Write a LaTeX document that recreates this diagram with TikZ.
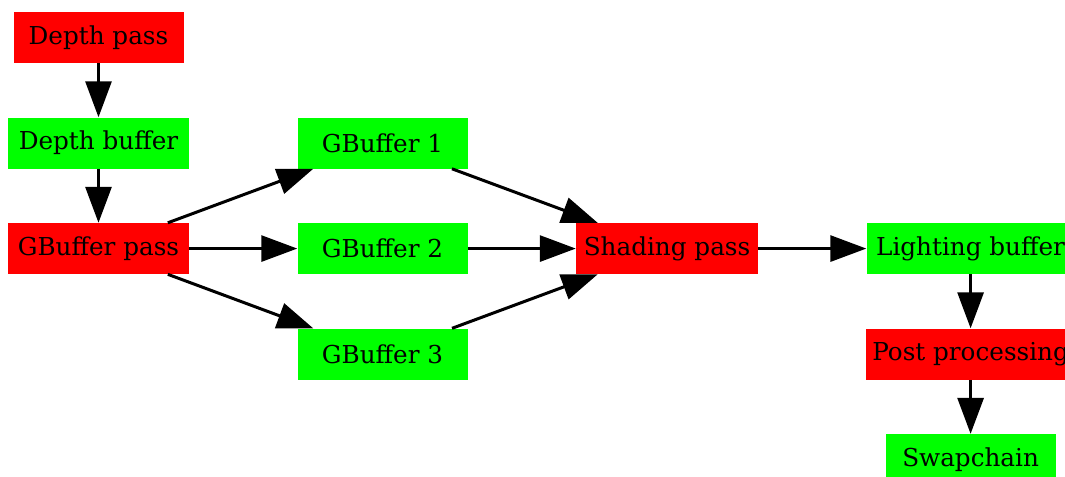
\documentclass[tikz,border=0pt]{standalone}
\usepackage{fontspec}
\setmainfont{DejaVu Serif}
\usepackage{xcolor}
\usepackage{tikz}
\usetikzlibrary{arrows.meta,positioning}
\definecolor{passred}{RGB}{255,0,0}
\definecolor{bufgreen}{RGB}{0,255,0}

\begin{document}
\begin{tikzpicture}[
            x=0.75pt,y=-0.75pt,
            node distance=40.5pt and 81pt,
            font=\fontsize{18.5pt}{22pt}\selectfont,
            box/.style={inner sep=0pt,align=center,minimum width=127.5pt,minimum height=38.25pt},
            pass/.style={box,fill=passred},
            buf/.style={box,fill=bufgreen},
            arrow/.style={-{Triangle[length=27pt,width=19.5pt]},line width=2.25pt}
        ]
            \path[use as bounding box,clip] (0,0) rectangle (1065,477);

            \node[pass] (depthpass) at (98.5,37.5) {Depth pass};
            \node[buf,minimum width=135.75pt,below=of depthpass] (depthbuf) {Depth buffer};
            \node[pass,minimum width=135.75pt,below=of depthbuf] (gbpass) {GBuffer pass};
            \node[buf,right=of depthbuf] (gbuf1) {GBuffer 1};
            \node[buf,right=of gbpass] (gbuf2) {GBuffer 2};
            \node[buf,below=of gbuf2] (gbuf3) {GBuffer 3};
            \node[pass,minimum width=136.5pt,right=of gbuf2] (shading) {Shading pass};
            \node[buf,minimum width=156pt,right=81pt of shading] (lightbuf) {Lighting buffer};
            \node[pass,minimum width=157.5pt,below=of lightbuf] (postproc) {Post processing};
            \node[buf,below=of postproc] (swapchain) {Swapchain};

            \draw[arrow] (depthpass) -- (depthbuf);
            \draw[arrow] (depthbuf) -- (gbpass);
            \draw[arrow] (gbpass) -- (gbuf1);
            \draw[arrow] (gbpass) -- (gbuf2);
            \draw[arrow] (gbpass) -- (gbuf3);
            \draw[arrow] (gbuf1) -- (shading);
            \draw[arrow] (gbuf2) -- (shading);
            \draw[arrow] (gbuf3) -- (shading);
            \draw[arrow] (shading) -- (lightbuf);
            \draw[arrow] (lightbuf) -- (postproc);
            \draw[arrow] (postproc) -- (swapchain);
        \end{tikzpicture}
\end{document}
